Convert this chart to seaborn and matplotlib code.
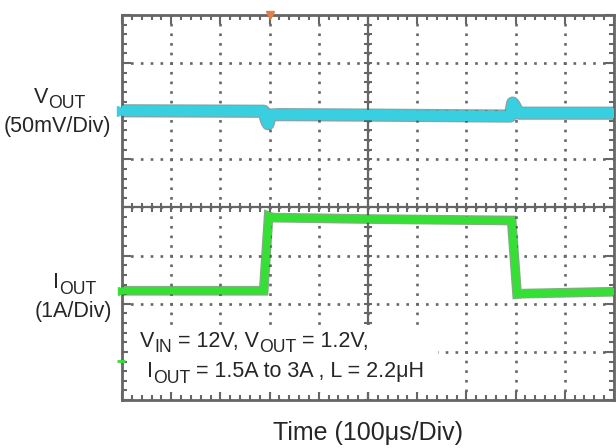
import matplotlib
matplotlib.use("Agg")
import numpy as np
import matplotlib.pyplot as plt
import matplotlib.patheffects as pe
from matplotlib.patches import Rectangle
from matplotlib.ticker import MultipleLocator
import seaborn as sns

# scope traces in divisions (10 x 8 grid)
time_vout = [0.0, 2.88, 2.94, 2.97, 3.01, 3.2, 5.0, 7.89, 7.94, 7.97, 8.06, 10.0]
vout_div = [6.01, 6.00, 5.80, 5.74, 5.92, 5.93, 5.92, 5.90, 6.17, 6.13, 5.96, 5.96]

time_iout = [0.0, 2.88, 2.98, 3.06, 5.0, 7.92, 8.03, 8.15, 10.0]
iout_div = [2.27, 2.27, 3.82, 3.79, 3.76, 3.73, 2.20, 2.21, 2.25]

n_xdiv = 10
n_ydiv = 8
trigger_div = 3.0

sns.set_style("white")
plt.rcParams["font.family"] = ["Liberation Sans", "DejaVu Sans"]
plt.rcParams["lines.scale_dashes"] = False

W, H = 616, 448
gray = "#666666"
cyan = "#38d0e0"
green = "#35e035"

fig = plt.figure(figsize=(W / 100, H / 100), dpi=100)
ax = fig.add_axes([122 / W, 1 - 400 / H, (614 - 122) / W, (400 - 15) / H])
ax.set_facecolor("white")

# dotted graticule
ax.set_axisbelow(True)
ax.xaxis.set_major_locator(MultipleLocator(1))
ax.xaxis.set_minor_locator(MultipleLocator(0.2))
ax.yaxis.set_major_locator(MultipleLocator(1))
ax.yaxis.set_minor_locator(MultipleLocator(0.2))
ax.xaxis.grid(True, which="major", color=gray, linewidth=1.9,
              linestyle=(0.95, (1.9, 5.03)))
ax.yaxis.grid(True, which="major", color=gray, linewidth=1.9,
              linestyle=(0.95, (1.9, 5.18)))
ax.tick_params(which="both", direction="in", top=True, right=True,
               bottom=True, left=True, labelbottom=False, labelleft=False,
               color=gray, width=1.5)
ax.tick_params(which="major", length=6.5)
ax.tick_params(which="minor", length=3.5)
for sp in ax.spines.values():
    sp.set_color(gray)
    sp.set_linewidth(2)

# centre axes with small ticks
ax.axhline(n_ydiv / 2, color=gray, lw=1.6, zorder=0.6)
ax.axvline(n_xdiv / 2, color=gray, lw=1.6, zorder=0.6)
ax.vlines(np.arange(0, n_xdiv + 0.01, 0.2), n_ydiv / 2 - 0.085, n_ydiv / 2 + 0.085,
          color=gray, lw=1.5, zorder=0.6)
ax.hlines(np.arange(0, n_ydiv + 0.01, 0.2), n_xdiv / 2 - 0.082, n_xdiv / 2 + 0.082,
          color=gray, lw=1.5, zorder=0.6)

# white patch behind the test conditions
ax.add_patch(Rectangle((0.12, 0.17), 6.3, 1.38, facecolor="white",
                       edgecolor="none", zorder=1))

sns.lineplot(x=time_vout, y=vout_div, ax=ax, color=cyan, linewidth=7.5, zorder=3,
             path_effects=[pe.Stroke(linewidth=9.5, foreground="#1d5e63", alpha=0.55),
                           pe.Normal()])
sns.lineplot(x=time_iout, y=iout_div, ax=ax, color=green, linewidth=5.2, zorder=3,
             solid_joinstyle="miter",
             path_effects=[pe.Stroke(linewidth=7, foreground="#1e6b1e", alpha=0.55),
                           pe.Normal()])

# channel / trigger markers
ax.plot(trigger_div, n_ydiv, marker="v", color="#e0804a", ms=6, clip_on=False, zorder=4)
ax.plot(0, vout_div[0], marker=">", color=cyan, ms=7, clip_on=False, zorder=4)
ax.plot(0, iout_div[0], marker=">", color=green, ms=6, clip_on=False, zorder=4)
ax.plot(-0.02, 0.81, marker="_", color=green, ms=6, mew=2, clip_on=False, zorder=4)

ax.set_xlim(0, n_xdiv)
ax.set_ylim(0, n_ydiv)
ax.set_xlabel("")
ax.set_ylabel("")

renderer = fig.canvas.get_renderer()


def rich_text(x, y, parts, fs, ha="left"):
    """Write text with subscripts piece by piece; x, y in pixels (baseline)."""
    texts = []
    cur = 0.0
    for s, sub in parts:
        size = fs * 0.82 if sub else fs
        dy = 5.5 if sub else 0.0
        t = fig.text(0, 1 - (y + dy) / H, s, fontsize=size,
                     ha="left", va="baseline")
        texts.append((t, cur))
        cur += t.get_window_extent(renderer).width
    x0 = x - cur / 2 if ha == "center" else x
    for t, off in texts:
        t.set_x((x0 + off) / W)


fs = 15.5
rich_text(60, 103, [("V", False), ("OUT", True)], fs, ha="center")
fig.text(57 / W, 1 - 132 / H, "(50mV/Div)", ha="center", va="baseline", fontsize=fs)
rich_text(75, 288, [("I", False), ("OUT", True)], fs, ha="center")
fig.text(73 / W, 1 - 317 / H, "(1A/Div)", ha="center", va="baseline", fontsize=fs)

rich_text(140, 347, [("V", False), ("IN", True), (" = 12V, V", False),
                     ("OUT", True), (" = 1.2V,", False)], fs)
rich_text(147, 377, [("I", False), ("OUT", True),
                     (" = 1.5A to 3A , L = 2.2μH", False)], fs)

fig.text(368 / W, 1 - 440 / H, "Time (100μs/Div)", ha="center", va="baseline",
         fontsize=18)

fig.savefig("out.png", dpi=100)
